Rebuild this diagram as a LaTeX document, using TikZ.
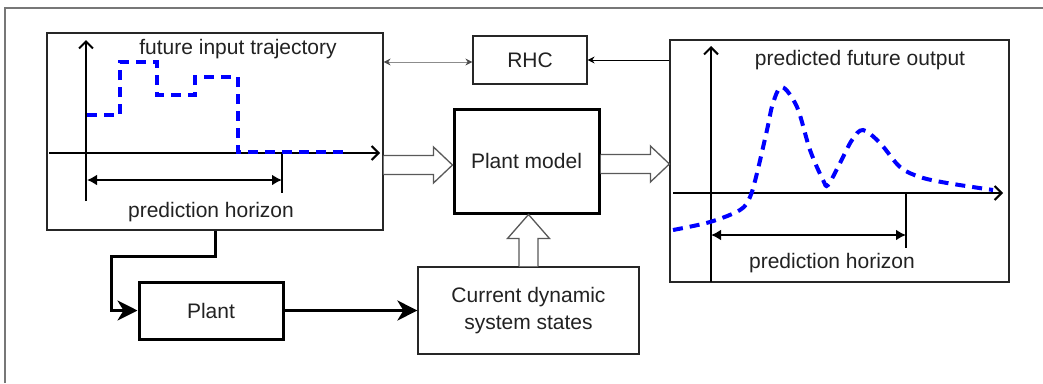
\documentclass[tikz,border=0pt]{standalone}
\usepackage{fontspec}
\setmainfont{Liberation Sans}
\usetikzlibrary{arrows.meta,calc}
\definecolor{txt}{HTML}{222222}
\definecolor{frame}{HTML}{777777}
\tikzset{
  panel/.style={draw=black!85, line width=1.2pt, inner sep=0pt},
  box/.style={draw=black!85, line width=1.2pt, inner sep=0pt, align=center, text=txt},
  thickbox/.style={draw=black, line width=3pt, inner sep=0pt, align=center, text=txt},
  lbl/.style={text=txt, inner sep=0pt},
  axis/.style={line width=2pt, -{Straight Barb[length=7pt,width=14pt,line width=2pt]}},
  horiz/.style={line width=2.5pt, {Latex[length=10pt,width=11pt]}-{Latex[length=10pt,width=11pt]}},
  tick/.style={line width=1.4pt},
  traj/.style={blue, line width=4pt, dash pattern=on 10pt off 7pt},
  hollow/.style={draw=black!65, line width=1.3pt, fill=white, line join=miter},
  thin/.style={line width=1pt},
}
\newcommand\hollowR[2]{%
  \draw[hollow] ($(#1)+(0,-9.5)$) -- ($(#2)+(-19,-9.5)$) -- ($(#2)+(-19,-18)$) -- (#2)
    -- ($(#2)+(-19,18)$) -- ($(#2)+(-19,9.5)$) -- ($(#1)+(0,9.5)$);}
\newcommand\hollowU[2]{%
  \draw[hollow] ($(#1)+(-9.5,0)$) -- ($(#2)+(-9.5,24)$) -- ($(#2)+(-21,24)$) -- (#2)
    -- ($(#2)+(21,24)$) -- ($(#2)+(9.5,24)$) -- ($(#1)+(9.5,0)$);}
\begin{document}
\begin{tikzpicture}[x=1pt, y=-1pt, font=\fontsize{21}{25}\selectfont]
\useasboundingbox (0,0) rectangle (1043,383);
\fill[white] (0,0) rectangle (1043,383);
% outer frame
\draw[frame, line width=2pt] (5,383) -- (5,8) -- (1043,8);

% nodes
\node[panel, minimum width=336pt, minimum height=197pt] (inp) at (215,131.5) {};
\node[panel, minimum width=339pt, minimum height=242pt] (out) at (839.5,161) {};
\node[box, minimum width=114pt, minimum height=48pt] (rhc) at (530,60) {RHC};
\node[thickbox, minimum width=145pt, minimum height=104pt] (model) at (526.5,161) {Plant model};
\node[thickbox, minimum width=144pt, minimum height=57pt] (plant) at (211,310.5) {Plant};
\node[box, minimum width=221pt, minimum height=87pt] (cur) at (528.5,310.5) {Current dynamic\\[2pt]system states};

% left panel content
\node[lbl] (tin) at (238,49) {future input trajectory};
\node[lbl] (hin) at (211,212) {prediction horizon};
\draw[axis] (86,201) -- (86,40);
\draw[axis] (49,153) -- (380,153);
\draw[tick] (282,153) -- (282,193);
\draw[horiz] (87,180) -- (282,180);
\draw[traj] (87,115) -- (120,115) -- (120,62) -- (157,62) -- (157,95) -- (195,95)
  -- (195,77) -- (238,77) -- (238,152) -- (345,152);

% right panel content
\node[lbl] (tout) at (860,60) {predicted future output};
\node[lbl] (hout) at (832,263) {prediction horizon};
\draw[axis] (711,282) -- (711,46);
\draw[axis] (673,193) -- (1003,193);
\draw[tick] (906,193) -- (906,248);
\draw[horiz] (711,235) -- (906,235);
\draw[traj] plot[smooth, tension=0.55] coordinates {
  (673,230) (710,222) (740,210) (750,197) (757,173) (767,130) (773,103) (782,87)
  (797,107) (810,150) (823,180) (828,185) (840,163) (852,140) (863,130)
  (880,143) (900,167) (920,177) (947,183) (993,190)};

% connectors
\draw[thin, draw=black!45, {Stealth[length=7pt,width=7pt,black!70]}-{Stealth[length=7pt,width=7pt,black!70]}]
  ($(inp.east)+(0,-69.5)$) -- (rhc.west |- 0,62);
\draw[thin, -{Stealth[length=7pt,width=7pt]}] (out.west |- rhc.east) -- (rhc.east);
\coordinate (mw) at ($(model.west)+(0,4)$);
\hollowR{inp.east |- mw}{mw}
\coordinate (me) at ($(model.east)+(0,3)$);
\hollowR{me}{out.west |- me}
\coordinate (ms) at (model.south -| cur.north);
\hollowU{cur.north}{ms}
\draw[line width=3pt, -{Stealth[length=20pt,width=20pt,inset=6pt]}]
  (inp.south) -- ++(0,26) -| ([xshift=-26pt]plant.west) -- (plant.west);
\draw[line width=3pt, -{Stealth[length=20pt,width=20pt,inset=6pt]}] (plant.east) -- (cur.west);
\end{tikzpicture}
\end{document}
